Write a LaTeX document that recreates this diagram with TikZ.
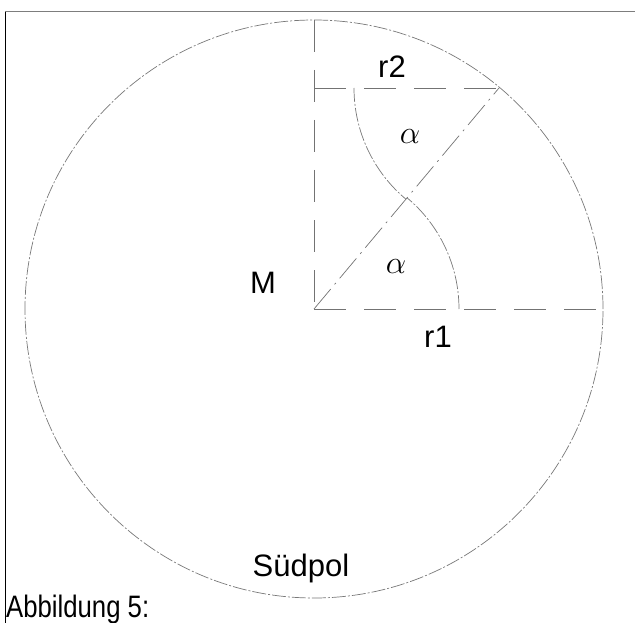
\documentclass[tikz,border=0pt]{standalone}
\usepackage{fontspec}
\setmainfont{Liberation Sans}
\definecolor{linegray}{RGB}{115,115,115}
\definecolor{circgray}{RGB}{120,120,120}
\definecolor{framegray}{RGB}{125,125,125}
\tikzset{
  radline/.style={linegray, line width=0.7pt, dash pattern=on 32pt off 18pt},
  diagline/.style={linegray, line width=0.7pt, dash pattern=on 26pt off 6pt on 2pt off 6pt},
  circline/.style={circgray, line width=0.7pt, dash pattern=on 14pt off 2pt on 2pt off 2pt},
  sline/.style={circgray, line width=0.7pt, dash pattern=on 14pt off 2pt on 2pt off 2pt},
  frameline/.style={line width=1pt},
  lbl/.style={font=\fontsize{31}{36}\selectfont, inner sep=0pt, anchor=base},
  greek/.style={font=\fontsize{24.88}{30}\selectfont, inner sep=0pt, scale=1.3}
}

\begin{document}
\begin{tikzpicture}[x=1pt,y=-1pt]
  \useasboundingbox (0,0) rectangle (635,623);
  % frame
  \coordinate (tl) at (5,12);
  \coordinate (tr) at (635,12);
  \coordinate (bl) at (5,623);
  \draw[frameline, framegray] (tl) -- (tr);
  \draw[frameline, black] (tl) -- (bl);
  % sphere
  \coordinate (M) at (314,309);
  \coordinate (N) at (314,20);
  \coordinate (E) at (603,309);
  \coordinate (Q) at (314,88);
  \coordinate (P) at (499,88);
  \draw[circline] (M) circle (289pt);
  \draw[radline] (N) -- (M);
  \draw[radline] (M) -- (E);
  \draw[radline] (Q) -- (P);
  \draw[diagline] (M) -- (P);
  % S-curve
  \draw[sline] (M) ++(145,0) arc (0:-50.1:145);
  \draw[sline] (P) ++(-145,0) arc (180:129.9:145);
  % labels
  \node[lbl] (nr2) at (392,78) {r2};
  \node[lbl] (nM) at (263,293) {M};
  \node[lbl] (nr1) at (438,347) {r1};
  \node[lbl] (nsued) at (301,576) {Südpol};
  \node[lbl, anchor=base west, xscale=0.83] (ncap) at (6,617) {Abbildung 5:};
  \node[greek] (nal1) at (410,137) {$\alpha$};
  \node[greek] (nal2) at (396,267) {$\alpha$};
\end{tikzpicture}
\end{document}
